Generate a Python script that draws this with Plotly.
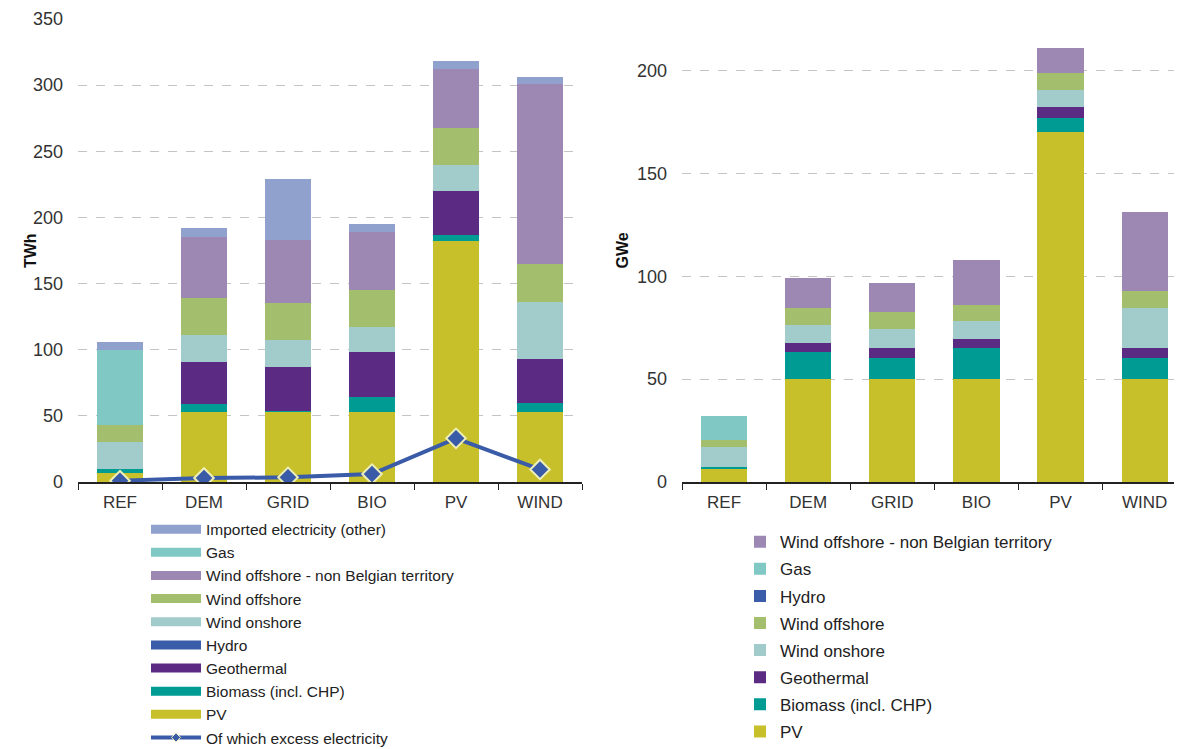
import plotly.graph_objects as go

scenarios = ["REF", "DEM", "GRID", "BIO", "PV", "WIND"]

# left chart: electricity generation (TWh), stacked bottom-up
twh_pv = [7, 53, 53, 53, 182, 53]
twh_biomass = [3, 6, 1, 11, 5, 7]
twh_geothermal = [0, 32, 33, 34, 33, 33]
twh_hydro = [0, 0, 0, 0, 0, 0]
twh_onshore = [20, 20, 20, 19, 19.5, 43]
twh_offshore = [13, 28, 28, 28, 28, 29]
twh_offshore_nb = [0, 46, 48, 44, 45, 136]
twh_gas = [57, 0, 0, 0, 0, 0]
twh_imported = [5.5, 7, 46, 6, 6, 5]
twh_excess = [1, 3, 3.5, 6, 33, 9.5]

# right chart: installed capacity (GWe), stacked bottom-up
gw_pv = [6.5, 50, 50, 50, 170, 50]
gw_biomass = [1, 13, 10.5, 15, 7, 10.5]
gw_geothermal = [0, 4.5, 4.5, 4.5, 5, 4.5]
gw_onshore = [9.5, 9, 9.5, 8.5, 8.5, 19.5]
gw_offshore = [3.5, 8, 8, 8, 8.5, 8.5]
gw_hydro = [0, 0, 0, 0, 0, 0]
gw_gas = [11.5, 0, 0, 0, 0, 0]
gw_offshore_nb = [0, 14.5, 14, 22, 12, 38]

C = {
    "PV": "#c8c02a",
    "Biomass (incl. CHP)": "#009c94",
    "Geothermal": "#5b2a82",
    "Hydro": "#3b5ca8",
    "Wind onshore": "#a2cbcc",
    "Wind offshore": "#a3be6c",
    "Wind offshore - non Belgian territory": "#9d87b3",
    "Gas": "#80c8c4",
    "Imported electricity (other)": "#8fa1cc",
}

FONT = "Liberation Sans, Arial, sans-serif"
W, H = 1174, 741  # page body keeps an 8px margin

left_stack = [
    ("PV", twh_pv),
    ("Biomass (incl. CHP)", twh_biomass),
    ("Geothermal", twh_geothermal),
    ("Hydro", twh_hydro),
    ("Wind onshore", twh_onshore),
    ("Wind offshore", twh_offshore),
    ("Wind offshore - non Belgian territory", twh_offshore_nb),
    ("Gas", twh_gas),
    ("Imported electricity (other)", twh_imported),
]
right_stack = [
    ("PV", gw_pv),
    ("Biomass (incl. CHP)", gw_biomass),
    ("Geothermal", gw_geothermal),
    ("Wind onshore", gw_onshore),
    ("Wind offshore", gw_offshore),
    ("Hydro", gw_hydro),
    ("Gas", gw_gas),
    ("Wind offshore - non Belgian territory", gw_offshore_nb),
]

fig = go.Figure()

# left bars (legend drawn by wide line entries below)
n = len(left_stack)
for i, (name, vals) in enumerate(left_stack):
    fig.add_trace(go.Bar(x=scenarios, y=vals, name=name, marker_color=C[name],
                         marker_line_width=0, xaxis="x", yaxis="y",
                         legendgroup="L" + name, showlegend=False))
    fig.add_trace(go.Scatter(x=[None], y=[None], mode="lines", name=name,
                             line=dict(color=C[name], width=9),
                             xaxis="x", yaxis="y", legend="legend",
                             legendgroup="L" + name, legendrank=n - i))

fig.add_trace(go.Scatter(x=scenarios, y=twh_excess, mode="lines+markers",
                         name="Of which excess electricity",
                         line=dict(color="#3a5ba8", width=4),
                         marker=dict(symbol="diamond", size=15, color="#3a5ba8",
                                     line=dict(color="#eef0b8", width=2)),
                         xaxis="x", yaxis="y", legendgroup="Lexcess",
                         showlegend=False))
# smaller marker for the legend entry
fig.add_trace(go.Scatter(x=[None], y=[None], mode="lines+markers",
                         name="Of which excess electricity",
                         line=dict(color="#3a5ba8", width=4),
                         marker=dict(symbol="diamond", size=7, color="#3a5ba8",
                                     line=dict(color="#eef0b8", width=1)),
                         xaxis="x", yaxis="y", legend="legend",
                         legendgroup="Lexcess", legendrank=100))

# right bars
m = len(right_stack)
for i, (name, vals) in enumerate(right_stack):
    fig.add_trace(go.Bar(x=scenarios, y=vals, name=name, marker_color=C[name],
                         marker_line_width=0, xaxis="x2", yaxis="y2",
                         legend="legend2", legendgroup="R" + name,
                         legendrank=m - i))

axis_common = dict(
    type="category", showline=True, linecolor="#222", linewidth=1.5,
    ticks="outside", tickson="boundaries", ticklen=6, tickcolor="#222",
    tickfont=dict(size=17, color="#333", family=FONT), showgrid=False,
    ticklabelstandoff=4, automargin=False,
)
yaxis_common = dict(
    showline=False, zeroline=False, showgrid=True, gridcolor="#c4c4c4",
    griddash="dash", gridwidth=1, ticks="",
    tickfont=dict(size=18, color="#333", family=FONT), ticklabelstandoff=14,
    automargin=False,
)

fig.update_layout(
    width=W, height=H,
    margin=dict(l=0, r=0, t=11, b=267, autoexpand=False),
    paper_bgcolor="white", plot_bgcolor="white",
    barmode="stack", bargap=0.45,
    font=dict(family=FONT, color="#333"),
    xaxis=dict(axis_common, domain=[70 / W, 574 / W], range=[-0.5, 5.5]),
    yaxis=dict(yaxis_common, range=[0, 350], dtick=50, anchor="x"),
    xaxis2=dict(axis_common, domain=[674 / W, 1172 / W], range=[-0.5, 5.42],
                anchor="y2"),
    yaxis2=dict(yaxis_common, range=[0, 225], dtick=50, anchor="x2"),
    legend=dict(x=138 / W, y=-0.066, xanchor="left", yanchor="top",
                font=dict(size=15.5, family=FONT, color="#222"),
                tracegroupgap=0, itemwidth=50, bgcolor="rgba(0,0,0,0)"),
    legend2=dict(x=732 / W, y=-0.091, xanchor="left", yanchor="top",
                 font=dict(size=17, family=FONT, color="#222"),
                 tracegroupgap=2, bgcolor="rgba(0,0,0,0)"),
    annotations=[
        dict(text="<b>TWh</b>", x=12 / W, y=0.5, xref="paper", yref="paper",
             textangle=-90, showarrow=False, font=dict(size=16, color="#111")),
        dict(text="<b>GWe</b>", x=614 / W, y=0.5, xref="paper", yref="paper",
             textangle=-90, showarrow=False, font=dict(size=16, color="#111")),
    ],
)

fig.write_html("out.html")
